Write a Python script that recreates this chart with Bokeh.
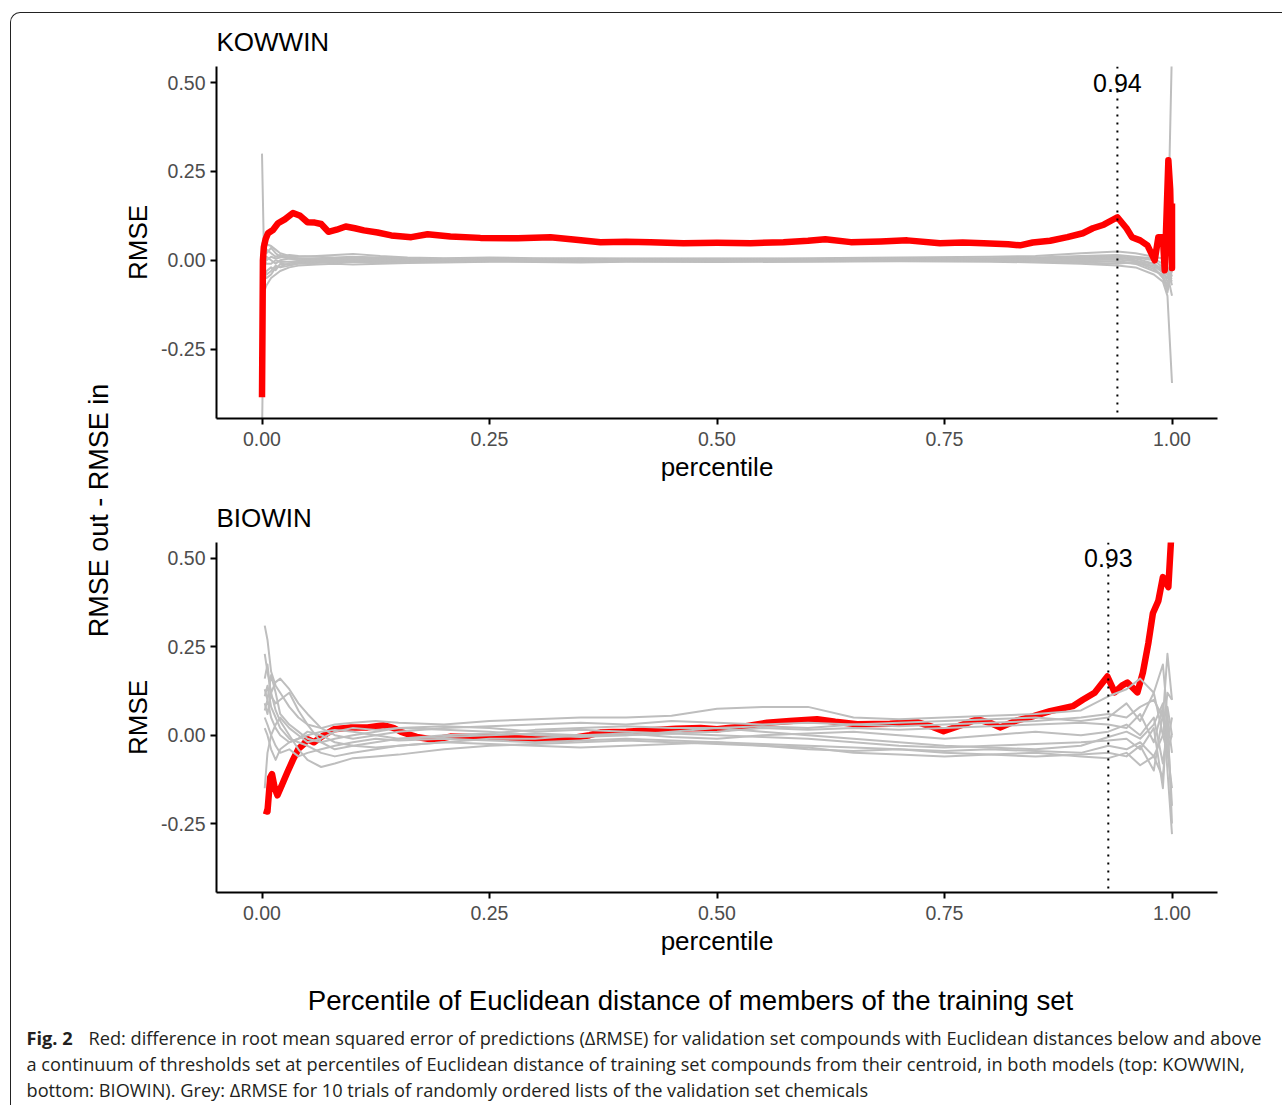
from math import pi
from bokeh.plotting import figure
from bokeh.layouts import column, row
from bokeh.models import Range1d, FixedTicker, Span
from bokeh.core.properties import value
from bokeh.embed import file_html
from bokeh.resources import INLINE

# ---------------- data ----------------
panel_titles = ["KOWWIN", "BIOWIN"]
thresholds = [0.94, 0.93]
x_ticks = [0.0, 0.25, 0.5, 0.75, 1.0]
x_tick_labels = ["0.00", "0.25", "0.50", "0.75", "1.00"]
y_ticks = [-0.25, 0.0, 0.25, 0.5]
y_tick_labels = ["-0.25", "0.00", "0.25", "0.50"]
x_label = "percentile"
y_label = "RMSE"
outer_y_label = "RMSE out - RMSE in"
outer_x_label = "Percentile of Euclidean distance of members of the training set"
caption_bold = "Fig. 2"
caption_lines = [
    "Red: difference in root mean squared error of predictions (\u0394RMSE) for validation set compounds with Euclidean distances below and above",
    "a continuum of thresholds set at percentiles of Euclidean distance of training set compounds from their centroid, in both models (top: KOWWIN,",
    "bottom: BIOWIN). Grey: \u0394RMSE for 10 trials of randomly ordered lists of the validation set chemicals",
]

# KOWWIN (top) red curve
kow_red_x = [0.0, 0.0005, 0.001, 0.002, 0.004, 0.0066, 0.012, 0.0176, 0.025, 0.034, 0.042, 0.05, 0.058,
             0.065, 0.073, 0.082, 0.092, 0.102, 0.112, 0.127, 0.142, 0.164, 0.182, 0.207, 0.24, 0.281,
             0.317, 0.345, 0.372, 0.4, 0.427, 0.463, 0.5, 0.537, 0.573, 0.6, 0.619, 0.647, 0.68, 0.709,
             0.745, 0.77, 0.793, 0.82, 0.833, 0.847, 0.866, 0.885, 0.902, 0.913, 0.925, 0.94, 0.95,
             0.956, 0.965, 0.973, 0.981, 0.985, 0.99, 0.992, 0.996, 0.998, 1.0, 1.0]
kow_red_y = [-0.385, -0.2, 0.0, 0.037, 0.06, 0.076, 0.085, 0.104, 0.115, 0.133, 0.125, 0.107, 0.106,
             0.102, 0.08, 0.086, 0.095, 0.09, 0.084, 0.078, 0.07, 0.065, 0.073, 0.067, 0.063, 0.062,
             0.065, 0.058, 0.051, 0.052, 0.051, 0.048, 0.049, 0.048, 0.051, 0.055, 0.059, 0.051, 0.053,
             0.056, 0.048, 0.05, 0.048, 0.045, 0.042, 0.05, 0.055, 0.065, 0.076, 0.09, 0.1, 0.121, 0.09,
             0.065, 0.056, 0.042, 0.0, 0.065, 0.065, -0.028, 0.281, 0.2, -0.022, 0.16]

# KOWWIN grey trials
kow_grey_x = [0.0, 0.002, 0.005, 0.01, 0.015, 0.02, 0.03, 0.04, 0.06, 0.08, 0.1, 0.13, 0.16, 0.2, 0.25,
              0.3, 0.35, 0.4, 0.5, 0.6, 0.7, 0.8, 0.85, 0.9, 0.94, 0.96, 0.98, 0.99, 0.995, 1.0]
kow_t1 = [0.30, 0.04, 0.045, 0.04, 0.03, 0.02, 0.012, 0.01, 0.012, 0.015, 0.018, 0.012, 0.008, 0.006, 0.008,
          0.006, 0.004, 0.005, 0.004, 0.006, 0.008, 0.01, 0.012, 0.02, 0.025, 0.02, 0.01, 0.005, 0.02, 0.6]
kow_t2 = [-0.5, -0.09, -0.07, -0.05, -0.04, -0.03, -0.02, -0.015, -0.012, -0.01, -0.012, -0.01, -0.008, -0.006, -0.004,
          -0.005, -0.006, -0.004, -0.005, -0.004, -0.003, -0.004, -0.006, -0.01, -0.015, -0.02, -0.04, -0.06, -0.1, -0.345]
kow_t3 = [0.05, 0.03, 0.02, 0.035, 0.02, 0.01, 0.005, 0.0, 0.004, 0.006, 0.005, 0.004, 0.002, 0.0, 0.002,
          0.003, 0.001, 0.0, 0.002, 0.0, 0.002, 0.004, 0.006, 0.01, 0.012, 0.005, -0.01, -0.03, -0.06, -0.05]
kow_t4 = [-0.05, -0.06, -0.03, -0.02, -0.028, -0.01, -0.012, -0.008, -0.005, -0.006, -0.004, -0.006, -0.004, -0.005, -0.003,
          -0.002, -0.004, -0.003, -0.002, -0.003, -0.001, -0.002, 0.0, 0.005, 0.008, 0.0, -0.02, -0.05, -0.08, -0.04]
kow_t5 = [0.02, 0.01, 0.0, 0.01, 0.005, 0.008, 0.015, 0.012, 0.01, 0.008, 0.01, 0.008, 0.006, 0.004, 0.005,
          0.004, 0.006, 0.004, 0.005, 0.003, 0.004, 0.006, 0.008, 0.012, 0.015, 0.01, 0.005, -0.01, -0.02, -0.07]
kow_t6 = [-0.02, -0.03, -0.04, -0.03, -0.015, -0.02, -0.015, -0.01, -0.008, -0.004, -0.002, -0.003, -0.002, -0.003, -0.002,
          -0.001, 0.0, -0.001, 0.0, 0.001, 0.0, -0.002, -0.004, -0.005, -0.002, -0.01, -0.03, -0.04, -0.09, -0.02]
kow_t7 = [0.0, -0.02, 0.01, 0.0, -0.01, 0.0, 0.005, 0.004, 0.002, 0.0, 0.001, 0.0, 0.001, 0.002, 0.001,
          0.002, 0.003, 0.002, 0.001, 0.002, 0.003, 0.002, 0.004, 0.008, 0.005, 0.008, 0.0, -0.02, -0.04, -0.1]
kow_t8 = [0.03, 0.02, 0.03, 0.02, 0.01, 0.015, 0.008, 0.006, 0.005, 0.003, 0.004, 0.002, 0.003, 0.001, 0.0,
          0.001, 0.0, 0.002, 0.0, 0.001, 0.002, 0.0, 0.002, 0.0, -0.005, -0.01, -0.015, -0.035, -0.05, 0.01]
kow_t9 = [-0.03, -0.04, -0.05, -0.04, -0.02, -0.018, -0.008, -0.005, -0.003, -0.002, 0.0, -0.001, 0.0, -0.001, 0.001,
          0.0, -0.002, 0.0, -0.001, 0.0, -0.002, 0.0, -0.002, -0.006, -0.01, -0.005, -0.025, -0.045, -0.07, -0.03]
kow_t10 = [0.01, 0.0, -0.01, -0.01, 0.0, -0.005, -0.004, -0.003, 0.0, 0.002, -0.001, 0.001, -0.001, 0.0, -0.001,
           -0.002, -0.001, 0.001, -0.002, -0.001, 0.001, 0.002, 0.001, 0.003, 0.002, -0.003, -0.01, -0.025, -0.04, -0.06]
kow_grey = [kow_t1, kow_t2, kow_t3, kow_t4, kow_t5, kow_t6, kow_t7, kow_t8, kow_t9, kow_t10]

# BIOWIN (bottom) red curve
bio_red_x = [0.002, 0.006, 0.009, 0.011, 0.014, 0.017, 0.022, 0.028, 0.034, 0.04, 0.046, 0.05, 0.057, 0.068,
             0.079, 0.098, 0.116, 0.134, 0.145, 0.153, 0.17, 0.189, 0.207, 0.244, 0.27, 0.299, 0.336, 0.36,
             0.372, 0.4, 0.427, 0.455, 0.482, 0.5, 0.53, 0.555, 0.58, 0.61, 0.63, 0.654, 0.69, 0.72, 0.735,
             0.749, 0.77, 0.786, 0.8, 0.811, 0.83, 0.847, 0.866, 0.891, 0.902, 0.915, 0.929, 0.937, 0.945,
             0.951, 0.962, 0.968, 0.974, 0.979, 0.985, 0.99, 0.996, 1.0]
bio_red_y = [-0.213, -0.216, -0.12, -0.11, -0.15, -0.17, -0.14, -0.104, -0.07, -0.039, -0.025, -0.011, -0.02, 0.0,
             0.017, 0.022, 0.022, 0.028, 0.02, 0.009, -0.005, -0.013, -0.004, -0.006, -0.008, -0.011, -0.01, 0.0,
             0.008, 0.01, 0.014, 0.018, 0.02, 0.017, 0.025, 0.035, 0.04, 0.045, 0.038, 0.031, 0.032, 0.037, 0.025,
             0.011, 0.03, 0.045, 0.035, 0.022, 0.042, 0.053, 0.068, 0.082, 0.1, 0.12, 0.166, 0.121, 0.14,
             0.149, 0.121, 0.177, 0.26, 0.345, 0.38, 0.447, 0.419, 0.6]

# BIOWIN grey trials
bio_grey_x = [0.003, 0.006, 0.01, 0.015, 0.02, 0.03, 0.04, 0.05, 0.065, 0.08, 0.1, 0.125, 0.15, 0.2, 0.25,
              0.3, 0.35, 0.4, 0.45, 0.5, 0.55, 0.6, 0.65, 0.7, 0.75, 0.8, 0.85, 0.9, 0.93, 0.95, 0.965,
              0.98, 0.99, 0.995, 1.0]
bio_t1 = [0.31, 0.27, 0.18, 0.14, 0.12, 0.08, 0.05, 0.03, 0.02, 0.03, 0.035, 0.04, 0.035, 0.03, 0.04, 0.045, 0.05, 0.05,
          0.055, 0.075, 0.08, 0.08, 0.05, 0.045, 0.05, 0.055, 0.06, 0.07, 0.11, 0.13, 0.16, 0.12, 0.2, 0.05, -0.05]
bio_t2 = [0.23, 0.18, 0.12, 0.15, 0.16, 0.13, 0.09, 0.06, 0.02, 0.0, -0.01, 0.0, 0.01, 0.02, 0.025, 0.03, 0.035, 0.03,
          0.04, 0.035, 0.03, 0.035, 0.03, 0.025, 0.03, 0.035, 0.04, 0.05, 0.06, 0.05, 0.08, 0.1, 0.05, 0.23, 0.1]
bio_t3 = [0.16, 0.2, 0.11, 0.09, 0.1, 0.12, 0.07, 0.03, -0.02, -0.04, -0.03, -0.02, -0.01, 0.0, 0.005, 0.015, 0.02, 0.025,
          0.02, 0.02, 0.025, 0.02, 0.03, 0.035, 0.04, 0.045, 0.05, 0.04, 0.05, 0.09, 0.04, 0.12, 0.0, -0.05, -0.15]
bio_t4 = [0.13, 0.1, 0.17, 0.12, 0.06, 0.03, 0.01, -0.01, -0.02, -0.01, 0.0, 0.01, 0.02, 0.025, 0.02, 0.01, 0.015, 0.01,
          0.005, 0.01, 0.02, 0.015, 0.02, 0.015, 0.02, 0.025, 0.03, 0.035, 0.03, 0.02, 0.06, -0.02, 0.08, -0.1, -0.28]
bio_t5 = [0.11, 0.14, 0.08, 0.05, 0.02, -0.01, -0.02, -0.03, -0.05, -0.06, -0.05, -0.04, -0.03, -0.02, -0.01, -0.01, 0.0,
          0.005, -0.005, -0.01, 0.0, 0.005, 0.01, 0.0, -0.01, 0.0, 0.01, 0.0, 0.01, 0.03, 0.0, 0.05, -0.08, 0.02, -0.2]
bio_t6 = [0.09, 0.06, 0.12, 0.07, 0.04, 0.0, -0.04, -0.07, -0.09, -0.08, -0.065, -0.06, -0.055, -0.04, -0.03, -0.025,
          -0.02, -0.015, -0.02, -0.025, -0.03, -0.04, -0.045, -0.04, -0.05, -0.055, -0.06, -0.055, -0.05, -0.06, -0.03,
          -0.1, 0.06, -0.04, 0.0]
bio_t7 = [0.07, 0.1, 0.05, 0.02, 0.0, -0.02, -0.01, 0.01, 0.0, -0.02, -0.03, -0.035, -0.03, -0.02, -0.025, -0.03, -0.035,
          -0.03, -0.025, -0.02, -0.03, -0.035, -0.05, -0.055, -0.06, -0.055, -0.05, -0.06, -0.065, -0.05, -0.085, -0.06,
          -0.12, 0.05, -0.25]
bio_t8 = [0.05, 0.03, 0.0, -0.03, -0.05, -0.04, -0.06, -0.05, -0.04, -0.03, -0.02, -0.01, -0.015, -0.01, -0.015, -0.02,
          -0.015, -0.01, -0.015, -0.02, -0.025, -0.03, -0.035, -0.04, -0.045, -0.04, -0.045, -0.05, -0.03, -0.04, -0.02,
          -0.06, 0.0, 0.12, 0.1]
bio_t9 = [-0.15, -0.05, 0.0, 0.03, 0.05, 0.02, 0.0, -0.02, -0.01, 0.01, 0.02, 0.015, 0.02, 0.015, 0.01, 0.0, -0.005, 0.0,
          0.01, 0.02, 0.01, 0.0, -0.01, -0.02, -0.03, -0.035, -0.04, -0.03, -0.005, 0.01, -0.01, 0.03, 0.09, -0.02, 0.05]
bio_t10 = [0.02, 0.0, -0.04, -0.07, -0.04, -0.02, -0.01, 0.0, 0.01, 0.015, 0.01, 0.0, -0.01, -0.005, 0.0, 0.005, 0.0, 0.0,
           0.005, 0.0, -0.005, -0.01, -0.02, -0.03, -0.035, -0.03, -0.025, -0.02, -0.015, -0.01, -0.04, 0.02, -0.15, 0.08, 0.0]
bio_grey = [bio_t1, bio_t2, bio_t3, bio_t4, bio_t5, bio_t6, bio_t7, bio_t8, bio_t9, bio_t10]

# ---------------- styling ----------------
FONT = "Liberation Sans"
CAP_FONT = "Open Sans"
RED = "#ff0000"
GREY = "#bebebe"


def panel(title, red_x, red_y, grey_x, grey_ys, thr, red_on_top, height, mb_top, mb_bottom):
    p = figure(width=1162, height=height,
               x_range=Range1d(-0.05, 1.05), y_range=Range1d(-0.445, 0.545),
               output_backend="svg", toolbar_location=None,
               min_border_left=95, min_border_right=65,
               min_border_top=mb_top, min_border_bottom=mb_bottom,
               title=title)
    p.outline_line_color = None
    p.grid.visible = False
    p.border_fill_color = None
    p.background_fill_color = None
    p.title.text_font = FONT
    p.title.text_font_size = "26px"
    p.title.text_font_style = "normal"
    p.title.text_color = "black"
    p.title.align = "left"
    p.title.offset = 0
    p.title.standoff = 20

    for ax in (p.xaxis[0], p.yaxis[0]):
        ax.axis_line_width = 2
        ax.axis_line_color = "black"
        ax.major_tick_line_width = 2
        ax.major_tick_line_color = "black"
        ax.major_tick_out = 6
        ax.major_tick_in = 0
        ax.minor_tick_line_color = None
        ax.major_label_text_font = FONT
        ax.major_label_text_font_size = "19.5px"
        ax.major_label_text_color = "#4d4d4d"
        ax.axis_label_text_font = FONT
        ax.axis_label_text_font_size = "26px"
        ax.axis_label_text_font_style = "normal"
        ax.axis_label_text_color = "black"

    p.xaxis.ticker = FixedTicker(ticks=x_ticks)
    p.xaxis.major_label_overrides = dict(zip(x_ticks, x_tick_labels))
    p.xaxis.major_label_standoff = 7
    p.xaxis.axis_label = x_label
    p.xaxis.axis_label_standoff = 3

    p.yaxis.ticker = FixedTicker(ticks=y_ticks)
    p.yaxis.major_label_overrides = dict(zip(y_ticks, y_tick_labels))
    p.yaxis.major_label_standoff = 5
    p.yaxis.axis_label = y_label
    p.yaxis.axis_label_standoff = 5

    def draw_grey():
        p.multi_line(xs=[grey_x] * len(grey_ys), ys=grey_ys, line_color=GREY, line_width=2,
                     line_join="round")

    def draw_red():
        p.line(red_x, red_y, line_color=RED, line_width=6.5, line_join="round")

    if red_on_top:
        draw_grey(); draw_red()
    else:
        draw_red(); draw_grey()

    p.add_layout(Span(location=thr, dimension="height", line_color="black",
                      line_width=2, line_dash="2 6"))
    p.text(x=[thr], y=[0.5], text=[f"{thr:.2f}"], text_align="center", text_baseline="middle",
           text_font=value(FONT), text_font_size=value("25px"), text_color="black")
    return p


pA = panel(panel_titles[0], kow_red_x, kow_red_y, kow_grey_x, kow_grey, thresholds[0], True, 472, 53, 67)
pB = panel(panel_titles[1], bio_red_x, bio_red_y, bio_grey_x, bio_grey, thresholds[1], False, 474, 57, 67)

# left strip with shared y label
pL = figure(width=109, height=946, x_range=Range1d(0, 109), y_range=Range1d(0, 946),
            output_backend="svg", toolbar_location=None, min_border=0,
            x_axis_type=None, y_axis_type=None)
pL.outline_line_color = None
pL.grid.visible = False
pL.border_fill_color = None
pL.background_fill_color = None
pL.text(x=[87], y=[449], text=[outer_y_label], angle=pi / 2, text_align="center",
        text_baseline="middle", text_font=value(FONT), text_font_size=value("27px"), text_color="black")

# bottom strip: shared x label + caption
CH = 146
pC = figure(width=1271, height=CH, x_range=Range1d(0, 1271), y_range=Range1d(0, CH),
            output_backend="svg", toolbar_location=None, min_border=0,
            x_axis_type=None, y_axis_type=None)
pC.outline_line_color = None
pC.grid.visible = False
pC.border_fill_color = None
pC.background_fill_color = None
pC.text(x=[679], y=[CH - 41], text=[outer_x_label], text_align="center", text_baseline="middle",
        text_font=value(FONT), text_font_size=value("27.6px"), text_color="black")
pC.text(x=[15], y=[CH - 78], text=[caption_bold], text_align="left", text_baseline="middle",
        text_font=value(CAP_FONT), text_font_size=value("18.2px"), text_font_style="bold", text_color="#231f20")
pC.text(x=[77, 15, 15], y=[CH - 78, CH - 104, CH - 130], text=caption_lines, text_align="left",
        text_baseline="middle", text_font=value(CAP_FONT), text_font_size=value("18.2px"),
        text_color="#231f20")

layout = column(row(pL, column(pA, pB)), pC, margin=(12, 0, 0, 10),
                styles={"border-top": "1px solid #222222", "border-left": "1px solid #222222",
                        "border-top-left-radius": "10px"})

open("out.html", "w").write(file_html(layout, INLINE))
